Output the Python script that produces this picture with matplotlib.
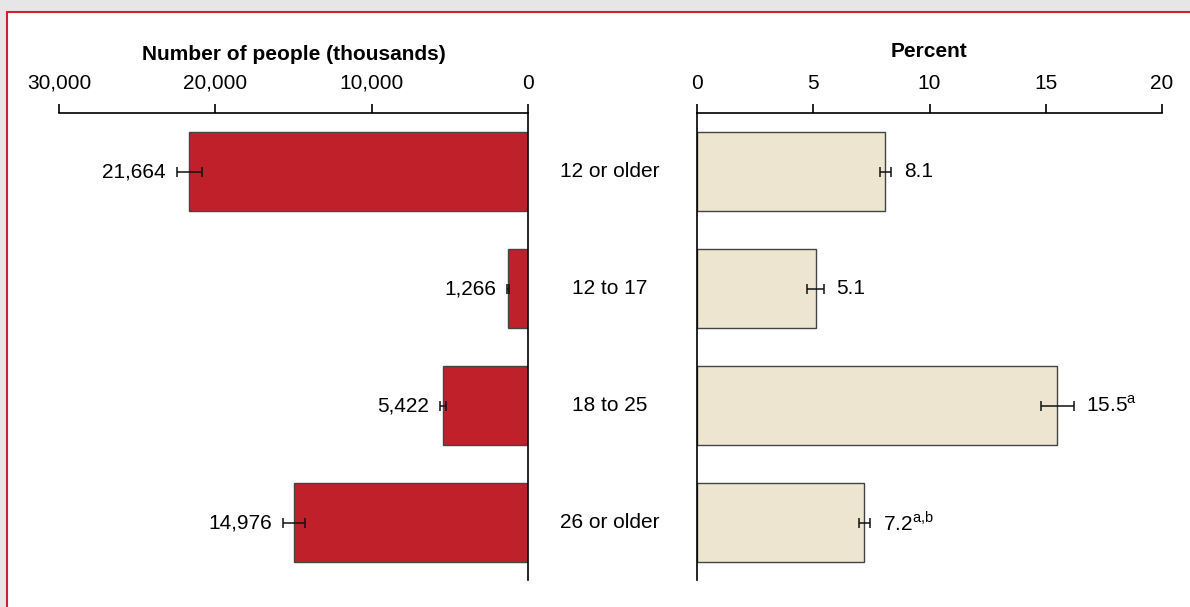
import matplotlib
matplotlib.use('Agg')
import matplotlib.pyplot as plt
from matplotlib.patches import Rectangle
from matplotlib.transforms import blended_transform_factory

plt.rcParams['font.family'] = ['Liberation Sans Narrow', 'Liberation Sans', 'DejaVu Sans']
plt.rcParams['mathtext.fontset'] = 'custom'
plt.rcParams['mathtext.rm'] = 'Liberation Sans'

# data
categories = ["12 or older", "12 to 17", "18 to 25", "26 or older"]
people = [21664, 1266, 5422, 14976]
people_err = [800, 60, 200, 700]
percent = [8.1, 5.1, 15.5, 7.2]
percent_err = [0.25, 0.35, 0.7, 0.25]
percent_notes = ["", "", "a", "a{,}b"]

people_ticks = [30000, 20000, 10000, 0]
percent_ticks = [0, 5, 10, 15, 20]

RED = '#c0202a'
BEIGE = '#ede5d0'
EDGE = '#444444'
FS = 15

fig = plt.figure(figsize=(11.9, 6.07), dpi=100)
fig.patch.set_facecolor('#e6e6e6')
# white panel with red frame (runs off the right and bottom edges)
fig.patches.append(Rectangle((7 / 1190, -0.1), 1.2, 1 - 12 / 607 + 0.1,
                             transform=fig.transFigure, facecolor='white',
                             edgecolor='#d0202e', linewidth=1.5, zorder=-10))

y = list(range(len(categories)))
ax_b = 1 - 580 / 607
ax_h = (580 - 113) / 607
axL = fig.add_axes([59 / 1190, ax_b, 469 / 1190, ax_h])
axR = fig.add_axes([697 / 1190, ax_b, 465 / 1190, ax_h])

for ax in (axL, axR):
    ax.set_facecolor('none')
    ax.set_ylim(3.49, -0.5)
    ax.set_yticks([])
    ax.xaxis.tick_top()
    ax.xaxis.set_label_position('top')
    ax.tick_params(axis='x', direction='out', length=6.5, width=1.2,
                   labelsize=FS, pad=8)
    ax.spines['bottom'].set_visible(False)
    for s in ax.spines.values():
        s.set_linewidth(1.2)

# left panel: number of people
axL.barh(y, people, height=0.675, color=RED, edgecolor=EDGE, linewidth=1)
axL.errorbar(people, y, xerr=people_err, fmt='none', ecolor='#111111',
             elinewidth=1.1, capsize=3.6, capthick=1.1)
axL.set_xlim(30000, 0)
axL.set_xticks(people_ticks)
axL.set_xticklabels([f"{t:,}" for t in people_ticks])
axL.spines['left'].set_visible(False)
axL.set_xlabel("Number of people (thousands)", fontsize=FS, fontweight='bold',
               labelpad=10)
for i, (v, e) in enumerate(zip(people, people_err)):
    axL.annotate(f"{v:,}", xy=(v + e, i), xytext=(-8, 0),
                 textcoords='offset points', ha='right', va='center',
                 fontsize=FS)

# right panel: percent
axR.barh(y, percent, height=0.675, color=BEIGE, edgecolor=EDGE, linewidth=1)
axR.errorbar(percent, y, xerr=percent_err, fmt='none', ecolor='#111111',
             elinewidth=1.1, capsize=3.6, capthick=1.1)
axR.set_xlim(0, 20)
axR.set_xticks(percent_ticks)
axR.spines['right'].set_visible(False)
axR.set_xlabel("Percent", fontsize=FS, fontweight='bold', labelpad=12)
for i, (v, e, n) in enumerate(zip(percent, percent_err, percent_notes)):
    label = f"{v}" if not n else f"{v}$^{{\\mathrm{{{n}}}}}$"
    axR.annotate(label, xy=(v + e, i), xytext=(9, 0),
                 textcoords='offset points', ha='left', va='center',
                 fontsize=FS)

# category labels between the panels
tr = blended_transform_factory(fig.transFigure, axL.transData)
for i, c in enumerate(categories):
    axL.text(610 / 1190, i, c, transform=tr, ha='center', va='center',
             fontsize=FS, clip_on=False)

fig.savefig('out.png', dpi=100, facecolor=fig.get_facecolor())
